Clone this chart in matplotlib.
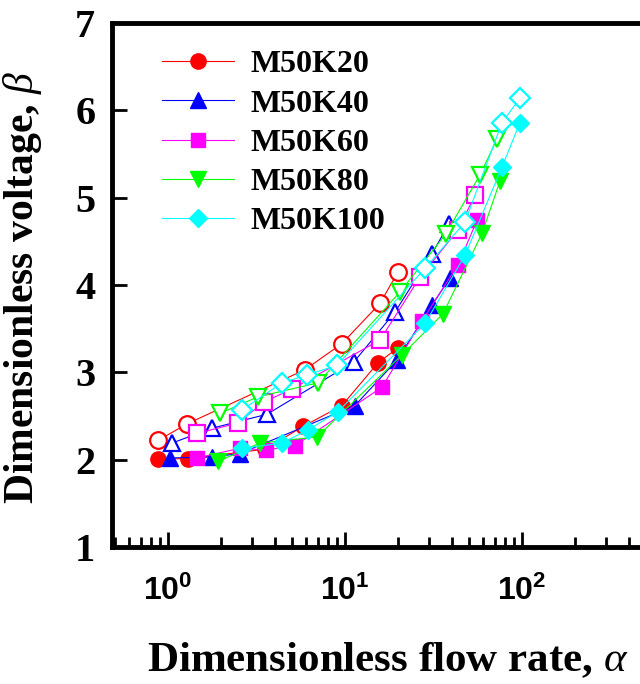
import matplotlib
matplotlib.use("Agg")
import matplotlib.pyplot as plt
from matplotlib.ticker import LogLocator, FixedLocator, NullLocator

plt.rcParams['mathtext.fontset'] = 'custom'
plt.rcParams['mathtext.rm'] = 'Liberation Serif'
plt.rcParams['mathtext.it'] = 'Liberation Serif:italic'
plt.rcParams['mathtext.bf'] = 'Liberation Serif:bold'

labels = ["M50K20", "M50K40", "M50K60", "M50K80", "M50K100"]
colors = ["#ff0000", "#0000ff", "#ff00ff", "#00ff00", "#00ffff"]
markers = ["o", "^", "s", "v", "D"]
msizes = [11, 11, 10.5, 11, 9.5]

# filled markers (lower branch)
k20_fx = [0.878, 1.297, 3.53, 5.79, 9.62, 15.37, 19.93]
k20_fy = [2.01, 2.01, 2.12, 2.38, 2.62, 3.11, 3.28]
k40_fx = [1.026, 1.773, 2.55, 11.39, 19.67, 31.01, 39.2]
k40_fy = [2.02, 2.03, 2.07, 2.62, 3.14, 3.77, 4.08]
k60_fx = [1.458, 2.551, 3.57, 5.22, 16.18, 27.23, 43.49, 55.69]
k60_fy = [2.02, 2.13, 2.11, 2.16, 2.83, 3.59, 4.23, 4.74]
k80_fx = [1.917, 3.31, 6.947, 20.99, 35.79, 59.43, 75.11]
k80_fy = [1.98, 2.19, 2.26, 3.20, 3.67, 4.59, 5.19]
k100_fx = [2.619, 4.407, 6.18, 9.13, 28.31, 47.64, 77.09, 97.43]
k100_fy = [2.13, 2.19, 2.34, 2.55, 3.56, 4.34, 5.35, 5.86]

# open markers (upper branch)
k20_ox = [0.878, 1.28, 5.94, 9.62, 15.77, 19.93]
k20_oy = [2.22, 2.41, 3.03, 3.33, 3.79, 4.15]
k40_ox = [1.053, 1.773, 3.625, 11.24, 19.16, 31.01, 38.7]
k40_oy = [2.19, 2.36, 2.52, 3.12, 3.69, 4.36, 4.70]
k60_ox = [1.458, 2.486, 3.486, 5.019, 15.77, 26.53, 43.49, 54.27]
k60_oy = [2.30, 2.42, 2.66, 2.81, 3.37, 4.09, 4.63, 5.03]
k80_ox = [1.967, 3.225, 7.04, 20.45, 37.0, 57.89, 72.25]
k80_oy = [2.53, 2.72, 2.88, 3.92, 4.58, 5.26, 5.67]
k100_ox = [2.619, 4.407, 6.10, 9.01, 28.31, 47.64, 77.09, 97.43]
k100_oy = [2.57, 2.88, 2.97, 3.08, 4.19, 4.72, 5.86, 6.14]

filled = [(k20_fx, k20_fy), (k40_fx, k40_fy), (k60_fx, k60_fy), (k80_fx, k80_fy), (k100_fx, k100_fy)]
opened = [(k20_ox, k20_oy), (k40_ox, k40_oy), (k60_ox, k60_oy), (k80_ox, k80_oy), (k100_ox, k100_oy)]

yticks = [1, 2, 3, 4, 5, 6, 7]

W, H = 640, 684
fig = plt.figure(figsize=(W / 100, H / 100), dpi=100)
L, T, B = 112, 23, 547
dec0, dec = 168, 177          # pixel of 10^0, pixels per decade
xmin, xmax = 10 ** ((L - dec0) / dec), 500
R = dec0 + dec * 2.69897
ax = fig.add_axes([L / W, (H - B) / H, (R - L) / W, (B - T) / H])
ax.set_xscale('log')

for i in range(5):
    ox, oy = opened[i]
    ax.plot(ox, oy, color=colors[i], marker=markers[i], ms=msizes[i] + 1,
            mfc='white', mec=colors[i], mew=1.6, lw=0.8, label='_nolegend_')
    fx, fy = filled[i]
    ax.plot(fx, fy, color=colors[i], marker=markers[i], ms=msizes[i],
            mfc=colors[i], mec=colors[i], lw=0.8, label=labels[i])

ax.set_xlim(xmin, xmax)
ax.set_ylim(1, 7)
ax.yaxis.set_major_locator(FixedLocator(yticks))
ax.yaxis.set_minor_locator(NullLocator())
ax.xaxis.set_major_locator(LogLocator(base=10))
ax.xaxis.set_minor_locator(LogLocator(base=10, subs=[2, 3, 4, 5, 6, 7, 8, 9]))

for s in ax.spines.values():
    s.set_linewidth(3.5)
ax.tick_params(which='major', direction='in', length=11, width=2, top=False, right=False)
ax.tick_params(which='minor', direction='in', length=7, width=2, top=False, right=False)
ax.tick_params(axis='y', pad=12)
ax.tick_params(axis='x', pad=21)
for t in ax.get_yticklabels():
    t.set_fontfamily('Liberation Serif')
    t.set_fontweight('bold')
    t.set_fontsize(29)
for t in ax.get_xticklabels():
    t.set_fontfamily('Liberation Sans')
    t.set_fontweight('bold')
    t.set_fontsize(23)

fig.text(388 / W, 1 - 660 / H, r"Dimensionless flow rate, $\alpha$", ha='center', va='center',
         fontsize=31, fontweight='bold', family='Liberation Serif')
fig.text(23 / W, 1 - 287 / H, r"Dimensionless voltage, $\beta$", ha='center', va='center',
         rotation=90, fontsize=30, fontweight='bold', family='Liberation Serif')

leg = ax.legend(loc='upper left', bbox_to_anchor=(50 / (R - L), 1 - 27 / (B - T)),
                frameon=False, borderaxespad=0, borderpad=0, handlelength=2.25,
                handletextpad=0.52, labelspacing=0.31,
                prop={'family': 'Liberation Serif', 'weight': 'bold', 'size': 23})

fig.savefig('out.png', dpi=100)
